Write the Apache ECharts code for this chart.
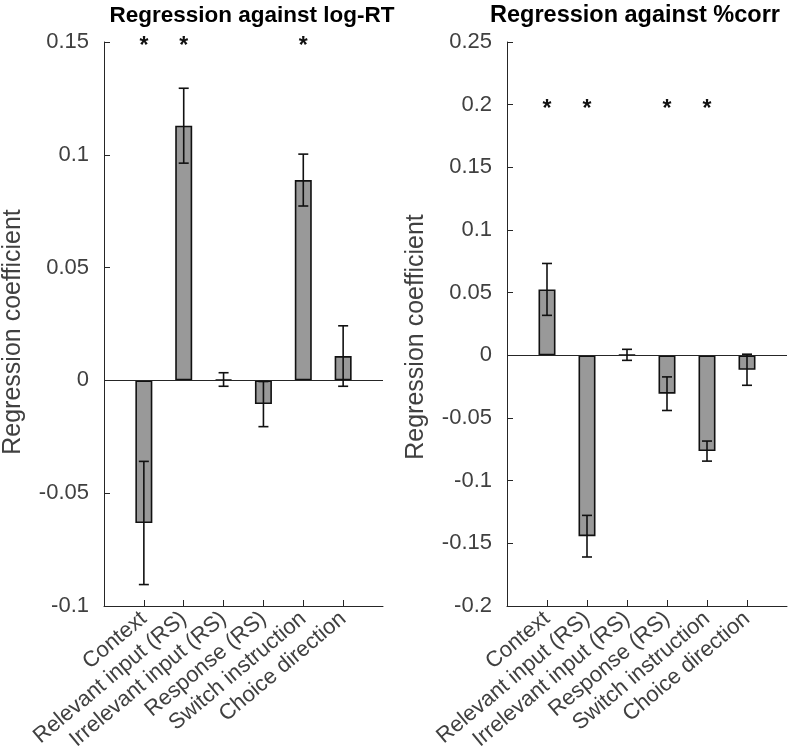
<!DOCTYPE html>
<html>
<head>
<meta charset="utf-8">
<script src="https://cdn.jsdelivr.net/npm/echarts@6/dist/echarts.min.js"></script>
<style>
html,body{margin:0;padding:0;background:#fff;}
#chart{width:790px;height:756px;}
</style>
</head>
<body>
<div id="chart"></div>
<script>
// ---- data ----
var categories = ['Context', 'Relevant input (RS)', 'Irrelevant input (RS)', 'Response (RS)', 'Switch instruction', 'Choice direction'];
var positions = [1, 2, 3, 4, 5, 6];

var rtTitle = 'Regression against log-RT';
var rtCoef = [-0.0632, 0.1129, 0.0004, -0.0105, 0.0888, 0.0108];
var rtErr  = [0.0273, 0.0166, 0.0030, 0.0100, 0.0115, 0.0134];
var rtSigPositions = [1, 2, 5];
var rtSigLevel = 0.15;
var rtMin = -0.1, rtMax = 0.15;

var corrTitle = 'Regression against %corr';
var corrCoef = [0.0526, -0.1443, 0.0004, -0.0306, -0.0764, -0.0115];
var corrErr  = [0.0207, 0.0166, 0.0044, 0.0134, 0.0080, 0.0124];
var corrSigPositions = [1, 2, 4, 5];
var corrSigLevel = 0.2;
var corrMin = -0.2, corrMax = 0.25;

var tickStep = 0.05;
var yName = 'Regression coefficient';

// ---- styling ----
var FONT = '"Liberation Sans", Arial, Helvetica, sans-serif';
var AXIS_COLOR = '#262626';
var TEXT_COLOR = '#404040';

function fmt(v) { return String(parseFloat(v.toFixed(4))); }

function xAxisDef(gi) {
  return {
    type: 'value', gridIndex: gi, min: 0, max: positions.length + 1, interval: 1,
    axisLine: { show: true, onZero: false, lineStyle: { color: AXIS_COLOR, width: 1 } },
    axisTick: { show: true, inside: true, length: 6, customValues: positions, lineStyle: { color: AXIS_COLOR } },
    splitLine: { show: false },
    axisLabel: {
      customValues: positions,
      rotate: 40, margin: 10,
      fontFamily: FONT, fontSize: 22, color: TEXT_COLOR,
      formatter: function (v) { return categories[Math.round(v) - 1] || ''; }
    }
  };
}

function yAxisDef(gi, mn, mx, shiftPad) {
  return {
    type: 'value', gridIndex: gi, min: mn, max: mx, interval: tickStep,
    name: yName, nameLocation: 'middle', nameGap: 78,
    nameTextStyle: { fontFamily: FONT, fontSize: 25, color: TEXT_COLOR, padding: [0, shiftPad, 0, 0] },
    axisLine: { show: true, lineStyle: { color: AXIS_COLOR, width: 1 } },
    axisTick: { show: true, inside: true, length: 6, lineStyle: { color: AXIS_COLOR } },
    splitLine: { show: false },
    axisLabel: { margin: 15, fontFamily: FONT, fontSize: 22, color: TEXT_COLOR, formatter: fmt }
  };
}

function barSeries(gi, coef) {
  return {
    type: 'bar', xAxisIndex: gi, yAxisIndex: gi,
    data: positions.map(function (p, i) { return [p, coef[i]]; }),
    barWidth: 17,
    itemStyle: { color: '#999999', borderColor: '#111111', borderWidth: 1.6 },
    silent: true, z: 2,
    markLine: {
      silent: true, symbol: ['none', 'none'], label: { show: false },
      lineStyle: { color: AXIS_COLOR, width: 1.2, type: 'solid' },
      data: [{ yAxis: 0 }], animation: false
    }
  };
}

function errSeries(gi, coef, err) {
  return {
    type: 'custom', xAxisIndex: gi, yAxisIndex: gi, z: 5, silent: true,
    data: positions.map(function (p, i) { return [p, coef[i] - err[i], coef[i] + err[i]]; }),
    renderItem: function (params, api) {
      var x = api.value(0);
      var lo = api.coord([x, api.value(1)]);
      var hi = api.coord([x, api.value(2)]);
      var cap = 5;
      var st = { stroke: '#111111', lineWidth: 1.6 };
      return {
        type: 'group',
        children: [
          { type: 'line', shape: { x1: lo[0], y1: lo[1], x2: hi[0], y2: hi[1] }, style: st },
          { type: 'line', shape: { x1: lo[0] - cap, y1: lo[1], x2: lo[0] + cap, y2: lo[1] }, style: st },
          { type: 'line', shape: { x1: hi[0] - cap, y1: hi[1], x2: hi[0] + cap, y2: hi[1] }, style: st }
        ]
      };
    }
  };
}

function sigSeries(gi, pos, level) {
  return {
    type: 'custom', xAxisIndex: gi, yAxisIndex: gi, z: 6, silent: true,
    data: pos.map(function (p) { return [p, level]; }),
    renderItem: function (params, api) {
      var c = api.coord([api.value(0), api.value(1)]);
      return {
        type: 'text', x: c[0], y: c[1] + 5,
        style: {
          text: '*', x: 0, y: 0, align: 'center', verticalAlign: 'middle',
          font: 'bold 23px ' + FONT, fill: '#111111'
        }
      };
    }
  };
}

var chart = echarts.init(document.getElementById('chart'), null, { renderer: 'canvas' });
chart.setOption({
  animation: false,
  backgroundColor: '#ffffff',
  title: [
    { text: rtTitle, left: 247, top: -1, textAlign: 'center',
      textStyle: { fontFamily: FONT, fontSize: 22.5, fontWeight: 'bold', color: '#000' } },
    { text: corrTitle, left: 630, top: -1, textAlign: 'center',
      textStyle: { fontFamily: FONT, fontSize: 23.5, fontWeight: 'bold', color: '#000' } }
  ],
  grid: [
    { left: 103, top: 42, width: 280, height: 564 },
    { left: 507, top: 42, width: 280, height: 564 }
  ],
  xAxis: [xAxisDef(0), xAxisDef(1)],
  yAxis: [yAxisDef(0, rtMin, rtMax, 16), yAxisDef(1, corrMin, corrMax, 26)],
  series: [
    barSeries(0, rtCoef), errSeries(0, rtCoef, rtErr), sigSeries(0, rtSigPositions, rtSigLevel),
    barSeries(1, corrCoef), errSeries(1, corrCoef, corrErr), sigSeries(1, corrSigPositions, corrSigLevel)
  ]
});
</script>
</body>
</html>
